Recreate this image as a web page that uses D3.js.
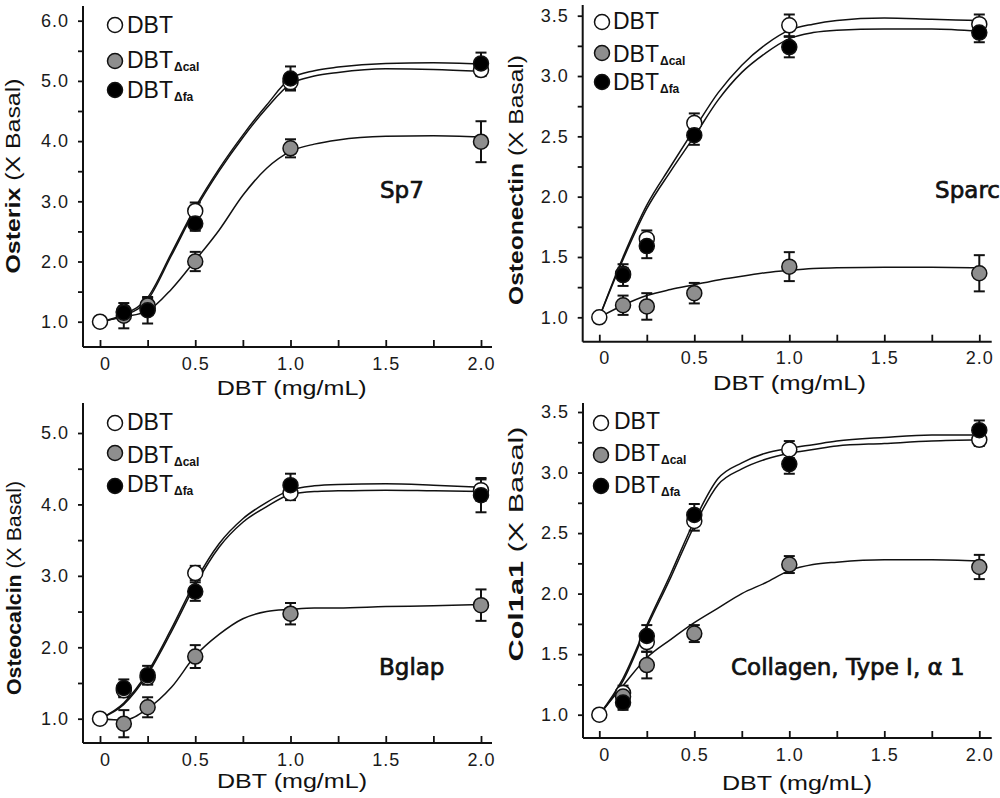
<!DOCTYPE html>
<html><head><meta charset="utf-8">
<script src="https://cdn.jsdelivr.net/npm/d3@7"></script>
<style>body{margin:0;background:#fff}svg{display:block}</style>
</head><body>
<svg id="c" width="1000" height="798"></svg>
<script>
// ---------- DATA ----------
const doses = [0, 0.125, 0.25, 0.5, 1.0, 2.0];
const fitX = [0, 0.125, 0.25, 0.375, 0.5, 0.625, 0.75, 0.875, 1.0, 1.125, 1.25, 1.5, 1.75, 2.0];
const xTickValues = [0, 0.25, 0.5, 0.75, 1.0, 1.25, 1.5, 1.75, 2.0];
const xTickLabels = ["0", "", "0.5", "", "1.0", "", "1.5", "", "2.0"];
const seriesNames = ["DBT", "DBT", "DBT"];
const seriesSubs = ["", "\u0394cal", "\u0394fa"];

// Sp7 (Osterix)
const sp7DBT    = [1.00, 1.17, 1.22, 2.84, 4.98, 5.18];
const sp7DBTErr = [0, 0.08, 0.10, 0.14, 0.12, 0.10];
const sp7Cal    = [null, 1.10, 1.27, 2.00, 3.88, 3.99];
const sp7CalErr = [0, 0.21, 0.12, 0.16, 0.15, 0.34];
const sp7Fa     = [null, 1.15, 1.19, 2.63, 5.04, 5.29];
const sp7FaErr  = [0, 0.08, 0.22, 0.12, 0.20, 0.18];
const sp7FitDBT = [1.00, 1.10, 1.36, 2.10, 2.86, 3.50, 4.06, 4.55, 4.95, 5.08, 5.14, 5.20, 5.19, 5.16];
const sp7FitCal = [1.00, 1.08, 1.18, 1.54, 2.02, 2.52, 3.10, 3.55, 3.83, 3.95, 4.02, 4.08, 4.09, 4.07];
const sp7FitFa  = [1.00, 1.12, 1.40, 2.14, 2.90, 3.54, 4.10, 4.60, 5.04, 5.17, 5.23, 5.29, 5.30, 5.28];
const sp7YTicks = [1, 1.5, 2, 2.5, 3, 3.5, 4, 4.5, 5, 5.5, 6];
const sp7YLabels = ["1.0", "", "2.0", "", "3.0", "", "4.0", "", "5.0", "", "6.0"];

// Sparc (Osteonectin)
const sparcDBT    = [1.00, 1.36, 1.65, 2.61, 3.42, 3.43];
const sparcDBTErr = [0, 0.05, 0.07, 0.08, 0.09, 0.08];
const sparcCal    = [null, 1.10, 1.09, 1.20, 1.42, 1.365];
const sparcCalErr = [0, 0.08, 0.11, 0.085, 0.12, 0.15];
const sparcFa     = [null, 1.35, 1.59, 2.51, 3.24, 3.36];
const sparcFaErr  = [0, 0.09, 0.10, 0.08, 0.085, 0.08];
const sparcFitDBT = [1.00, 1.50, 1.93, 2.25, 2.56, 2.86, 3.09, 3.26, 3.38, 3.43, 3.46, 3.48, 3.47, 3.46];
const sparcFitCal = [1.00, 1.10, 1.18, 1.23, 1.27, 1.31, 1.34, 1.37, 1.39, 1.405, 1.41, 1.415, 1.415, 1.41];
const sparcFitFa  = [1.00, 1.48, 1.90, 2.21, 2.50, 2.80, 3.03, 3.19, 3.31, 3.36, 3.38, 3.39, 3.39, 3.37];
const sparcYTicks = [1, 1.25, 1.5, 1.75, 2, 2.25, 2.5, 2.75, 3, 3.25, 3.5];
const sparcYLabels = ["1.0", "", "1.5", "", "2.0", "", "2.5", "", "3.0", "", "3.5"];

// Bglap (Osteocalcin)
const bglapDBT    = [1.00, 1.40, 1.58, 3.04, 4.16, 4.20];
const bglapDBTErr = [0, 0.10, 0.10, 0.10, 0.10, 0.15];
const bglapCal    = [null, 0.93, 1.16, 1.87, 2.47, 2.59];
const bglapCalErr = [0, 0.19, 0.14, 0.16, 0.15, 0.22];
const bglapFa     = [null, 1.43, 1.61, 2.78, 4.27, 4.13];
const bglapFaErr  = [0, 0.12, 0.13, 0.13, 0.16, 0.24];
const bglapFitDBT = [1.00, 1.20, 1.62, 2.22, 2.87, 3.40, 3.75, 3.97, 4.14, 4.18, 4.19, 4.20, 4.19, 4.18];
const bglapFitCal = [1.00, 0.98, 1.14, 1.44, 1.88, 2.18, 2.40, 2.50, 2.53, 2.55, 2.55, 2.57, 2.58, 2.60];
const bglapFitFa  = [1.00, 1.22, 1.65, 2.26, 2.92, 3.45, 3.80, 4.03, 4.20, 4.26, 4.28, 4.29, 4.27, 4.24];
const bglapYTicks = [1, 1.5, 2, 2.5, 3, 3.5, 4, 4.5, 5];
const bglapYLabels = ["1.0", "", "2.0", "", "3.0", "", "4.0", "", "5.0"];

// Col1a1 (Collagen, Type I, alpha 1)
const colDBT    = [1.00, 1.18, 1.60, 2.60, 3.19, 3.27];
const colDBTErr = [0, 0.06, 0.08, 0.08, 0.07, 0.05];
const colCal    = [null, 1.15, 1.41, 1.67, 2.24, 2.22];
const colCalErr = [0, 0.06, 0.11, 0.07, 0.07, 0.10];
const colFa     = [null, 1.10, 1.65, 2.65, 3.07, 3.35];
const colFaErr  = [0, 0.06, 0.09, 0.09, 0.08, 0.08];
const colFitDBT = [1.00, 1.28, 1.72, 2.13, 2.56, 2.90, 3.03, 3.11, 3.16, 3.19, 3.22, 3.24, 3.26, 3.27];
const colFitCal = [1.00, 1.24, 1.47, 1.62, 1.76, 1.88, 2.00, 2.09, 2.19, 2.24, 2.26, 2.28, 2.28, 2.27];
const colFitFa  = [1.00, 1.30, 1.74, 2.16, 2.60, 2.95, 3.08, 3.16, 3.20, 3.23, 3.26, 3.29, 3.31, 3.31];
const colYTicks = [1, 1.25, 1.5, 1.75, 2, 2.25, 2.5, 2.75, 3, 3.25, 3.5];
const colYLabels = ["1.0", "", "1.5", "", "2.0", "", "2.5", "", "3.0", "", "3.5"];

// ---------- LAYOUT ----------
const fills = ["#ffffff", "#8e8e8e", "#000000"];
const panels = [
  { ytitleB: "Osterix", gene: "Sp7",
    obs: [sp7DBT, sp7Cal, sp7Fa], err: [sp7DBTErr, sp7CalErr, sp7FaErr], fit: [sp7FitDBT, sp7FitCal, sp7FitFa],
    yt: sp7YTicks, yl: sp7YLabels,
    L: { x0: 100, x2: 481, axL: 83, axR: 492, axB: 347, axT: 6, yd: [1, 6], yr: [321.7, 20.7],
         yt: [20, 176, 195], xt: [216.7, 395, 150], gl: [380, 198, "start"],
         lg: { cx: 115, cy: [25, 61, 90], tx: 127, by: [33, 68, 98] } } },
  { ytitleB: "Osteonectin", gene: "Sparc",
    obs: [sparcDBT, sparcCal, sparcFa], err: [sparcDBTErr, sparcCalErr, sparcFaErr], fit: [sparcFitDBT, sparcFitCal, sparcFitFa],
    yt: sparcYTicks, yl: sparcYLabels,
    L: { x0: 599.3, x2: 979.3, axL: 582.7, axR: 991.7, axB: 341.7, axT: 5, yd: [1, 3.5], yr: [317.3, 15.7],
         yt: [523, 180, 250], xt: [713, 390, 153], gl: [1000, 198, "end"],
         lg: { cx: 602, cy: [22, 53, 82], tx: 613, by: [29, 62, 90] } } },
  { ytitleB: "Osteocalcin", gene: "Bglap",
    obs: [bglapDBT, bglapCal, bglapFa], err: [bglapDBTErr, bglapCalErr, bglapFaErr], fit: [bglapFitDBT, bglapFitCal, bglapFitFa],
    yt: bglapYTicks, yl: bglapYLabels,
    L: { x0: 100, x2: 481, axL: 83, axR: 492, axB: 743, axT: 403, yd: [1, 5], yr: [718.7, 433],
         yt: [21, 588, 214], xt: [217, 788, 150], gl: [379, 675, "start"],
         lg: { cx: 115, cy: [423, 453, 486], tx: 127, by: [430, 463, 492] } } },
  { ytitleB: "Col1a1", gene: "Collagen, Type I, \u03b1 1",
    obs: [colDBT, colCal, colFa], err: [colDBTErr, colCalErr, colFaErr], fit: [colFitDBT, colFitCal, colFitFa],
    yt: colYTicks, yl: colYLabels,
    L: { x0: 599.3, x2: 979.3, axL: 583, axR: 991.7, axB: 738, axT: 403, yd: [1, 3.5], yr: [714.7, 412],
         yt: [523, 544, 235], xt: [722, 790, 150], gl: [731, 675, "start"],
         lg: { cx: 601, cy: [423, 455, 486], tx: 614, by: [429, 461, 493] } } }
];

const svg = d3.select("#c");
const SANS = "'Liberation Sans', Arial, sans-serif";

panels.forEach(p => {
  const L = p.L;
  const g = svg.append("g");
  const x = d3.scaleLinear().domain([0, 2]).range([L.x0, L.x2]);
  const y = d3.scaleLinear().domain(L.yd).range(L.yr);

  // x axis (ticks inward)
  const xa = g.append("g").attr("transform", `translate(0,${L.axB})`)
    .call(d3.axisBottom(x).tickValues(xTickValues).tickSize(-7).tickPadding(10)
      .tickFormat((d, i) => xTickLabels[i]));
  xa.select(".domain").remove();
  xa.selectAll(".tick line").attr("stroke", "#111").attr("stroke-width", 1.8);
  xa.selectAll(".tick text").attr("font-family", SANS).attr("font-size", 18)
    .attr("letter-spacing", 1).attr("fill", "#1a1a1a")
    .attr("dx", (d, i) => i === 0 ? 5 : 0);

  // y axis (ticks outward)
  const ya = g.append("g").attr("transform", `translate(${L.axL},0)`)
    .call(d3.axisLeft(y).tickValues(p.yt).tickSize(5).tickPadding(9)
      .tickFormat((d, i) => p.yl[i]));
  ya.select(".domain").remove();
  ya.selectAll(".tick line").attr("stroke", "#111").attr("stroke-width", 1.8);
  ya.selectAll(".tick text").attr("font-family", SANS).attr("font-size", 18)
    .attr("letter-spacing", 1).attr("fill", "#1a1a1a");

  // axis lines
  g.append("line").attr("x1", L.axL).attr("x2", L.axR).attr("y1", L.axB).attr("y2", L.axB)
    .attr("stroke", "#111").attr("stroke-width", 2);
  g.append("line").attr("x1", L.axL).attr("x2", L.axL).attr("y1", L.axT).attr("y2", L.axB)
    .attr("stroke", "#111").attr("stroke-width", 2);

  // y title
  const yt = g.append("text")
    .attr("transform", `translate(${L.yt[0]},${L.yt[1]}) rotate(-90)`)
    .attr("text-anchor", "middle").attr("font-family", SANS).attr("font-size", 21)
    .attr("fill", "#111")
    .attr("textLength", L.yt[2]).attr("lengthAdjust", "spacingAndGlyphs");
  yt.append("tspan").attr("font-weight", "bold").text(p.ytitleB);
  yt.append("tspan").text(" (X Basal)");

  // x title
  g.append("text").attr("x", L.xt[0]).attr("y", L.xt[1])
    .attr("font-family", SANS).attr("font-size", 21).attr("fill", "#111")
    .attr("textLength", L.xt[2]).attr("lengthAdjust", "spacingAndGlyphs")
    .text("DBT (mg/mL)");

  // gene label
  g.append("text").attr("x", L.gl[0]).attr("y", L.gl[1]).attr("text-anchor", L.gl[2])
    .attr("font-family", "'DejaVu Sans', sans-serif")
    .attr("font-size", 23).attr("fill", "#111")
    .attr("stroke", "#111").attr("stroke-width", 0.7).text(p.gene);

  // fitted curves
  const line = d3.line().x(d => x(d[0])).y(d => y(d[1])).curve(d3.curveMonotoneX);
  p.fit.forEach(f => {
    g.append("path").datum(fitX.map((xv, i) => [xv, f[i]]))
      .attr("d", line).attr("fill", "none").attr("stroke", "#111").attr("stroke-width", 1.5);
  });

  // error bars
  [0, 1, 2].forEach(s => {
    const pts = doses.map((d, i) => ({ d, v: p.obs[s][i], e: p.err[s][i] }))
      .filter(o => o.v !== null && o.e > 0);
    const eb = g.append("g").attr("stroke", "#111").attr("stroke-width", 2);
    pts.forEach(o => {
      const cx = x(o.d), y1 = y(o.v + o.e), y2 = y(o.v - o.e);
      eb.append("line").attr("x1", cx).attr("x2", cx).attr("y1", y1).attr("y2", y2);
      eb.append("line").attr("x1", cx - 5.5).attr("x2", cx + 5.5).attr("y1", y1).attr("y2", y1);
      eb.append("line").attr("x1", cx - 5.5).attr("x2", cx + 5.5).attr("y1", y2).attr("y2", y2);
    });
  });

  // points
  [0, 1, 2].forEach(s => {
    g.append("g").selectAll("circle")
      .data(doses.map((d, i) => ({ d, v: p.obs[s][i] })).filter(o => o.v !== null))
      .join("circle")
      .attr("cx", o => x(o.d)).attr("cy", o => y(o.v)).attr("r", 7.5)
      .attr("fill", fills[s]).attr("stroke", "#111").attr("stroke-width", 1.5);
  });

  // legend
  const lg = L.lg;
  [0, 1, 2].forEach(s => {
    g.append("circle").attr("cx", lg.cx).attr("cy", lg.cy[s]).attr("r", 7.5)
      .attr("fill", fills[s]).attr("stroke", "#111").attr("stroke-width", 1.5);
    const t = g.append("text").attr("x", lg.tx).attr("y", lg.by[s])
      .attr("font-family", SANS).attr("font-size", 23).attr("fill", "#111");
    t.append("tspan").text(seriesNames[s]);
    if (seriesSubs[s]) {
      t.append("tspan").attr("font-size", 12).attr("font-weight", "bold").attr("dy", 3)
        .attr("dx", 1).text(seriesSubs[s]);
    }
  });
});
</script>
</body></html>
